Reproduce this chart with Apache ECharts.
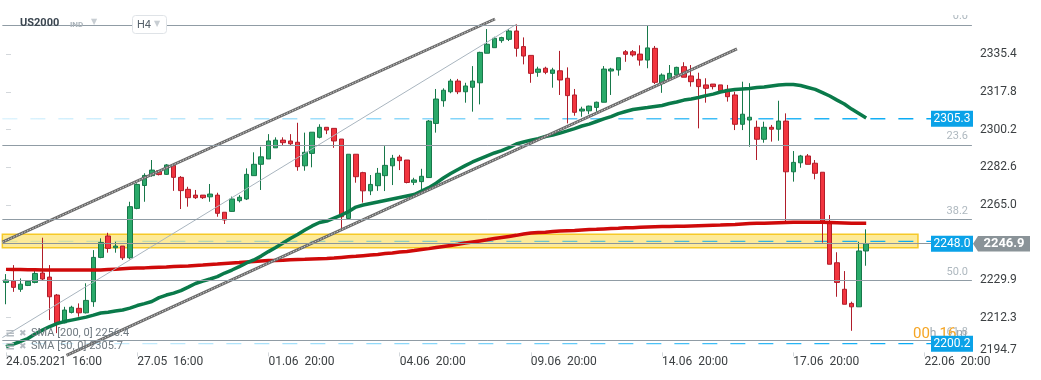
<!DOCTYPE html>
<html><head><meta charset="utf-8">
<script src="https://cdn.jsdelivr.net/npm/echarts@6/dist/echarts.min.js"></script>
<style>html,body{margin:0;padding:0;background:#fff;}#c{width:1041px;height:380px;}</style>
</head><body><div id="c"></div>
<script>
// ---------- data ----------
const slotCount = 133;               // H4 bar slots on the axis (incl. future)
const tickEvery = 18;                // one time label every 18 bars
const xTickLabels = ['24.05.2021  16:00','27.05  16:00','01.06  20:00','04.06  20:00','09.06  20:00','14.06  20:00','17.06  20:00','22.06  20:00'];
const yTickValues = [2194.7, 2212.3, 2229.9, 2265.0, 2282.6, 2300.2, 2317.8, 2335.4];
// candles: [open, close, low, high]
const candles = [
[2228.8,2229.9,2218.6,2232.7],[2229.4,2226.5,2224.4,2236.9],[2225.6,2228.0,2224.4,2230.7],[2227.4,2229.3,2227.1,2229.9],
[2228.8,2233.0,2228.4,2234.3],[2233.2,2230.4,2229.9,2249.7],[2231.3,2222.1,2211.2,2236.9],[2222.9,2209.9,2205.1,2223.4],
[2209.9,2215.9,2209.7,2217.4],[2214.8,2217.2,2214.3,2217.9],[2216.7,2214.6,2212.8,2219.0],[2214.6,2220.4,2214.3,2228.4],
[2219.8,2240.5,2217.4,2243.9],[2240.5,2247.5,2240.1,2249.4],[2250.5,2244.7,2242.7,2252.0],[2245.0,2245.8,2242.7,2247.8],
[2245.8,2240.3,2239.3,2245.8],[2240.3,2264.2,2239.6,2266.5],[2263.4,2274.6,2263.0,2275.1],[2274.1,2278.8,2266.5,2279.8],
[2278.7,2281.3,2278.2,2286.0],[2281.0,2279.2,2278.8,2281.3],[2279.3,2283.7,2279.0,2284.1],[2283.5,2277.9,2271.6,2284.1],
[2277.9,2271.7,2263.1,2278.5],[2272.3,2268.4,2264.2,2273.5],[2269.6,2268.4,2267.8,2272.0],[2269.6,2268.4,2267.8,2269.6],
[2268.8,2270.1,2266.5,2274.8],[2269.6,2261.1,2259.5,2270.7],[2261.6,2258.0,2256.1,2261.6],[2262.0,2267.8,2261.8,2268.9],
[2267.0,2268.6,2266.2,2269.6],[2267.8,2279.3,2267.3,2282.1],[2278.7,2284.0,2278.7,2289.6],[2284.0,2287.5,2272.0,2292.2],
[2286.5,2294.9,2286.5,2298.1],[2291.7,2295.3,2291.7,2296.6],[2295.3,2294.1,2293.0,2296.6],[2294.9,2293.6,2292.7,2298.1],
[2294.3,2282.9,2281.0,2303.4],[2283.3,2289.6,2281.0,2298.8],[2289.1,2299.0,2282.6,2299.0],[2296.6,2301.3,2296.1,2302.7],
[2301.3,2300.0,2298.1,2301.3],[2300.8,2294.9,2291.7,2300.8],[2295.8,2259.5,2253.4,2295.8],[2258.7,2288.7,2258.7,2288.7],
[2288.7,2278.2,2275.4,2288.7],[2280.1,2271.6,2266.1,2280.5],[2271.6,2274.6,2269.6,2279.0],[2274.0,2279.8,2271.6,2282.3],
[2278.7,2283.5,2271.5,2292.5],[2283.3,2286.8,2274.3,2288.4],[2287.4,2285.7,2281.3,2288.4],[2286.0,2275.5,2275.1,2286.0],
[2275.6,2276.7,2274.3,2277.7],[2275.9,2278.4,2271.8,2281.9],[2277.8,2304.2,2277.7,2304.7],[2303.1,2314.5,2298.8,2319.2],
[2313.7,2318.6,2310.9,2319.5],[2317.9,2322.9,2317.2,2323.9],[2322.9,2317.9,2316.8,2323.9],[2317.9,2320.6,2312.8,2322.1],
[2320.0,2322.9,2308.6,2329.9],[2322.1,2336.3,2312.0,2336.6],[2335.9,2340.1,2335.9,2347.2],[2338.5,2342.9,2338.5,2343.6],
[2341.8,2343.2,2340.8,2343.6],[2342.4,2346.3,2341.6,2347.2],[2346.3,2338.2,2334.3,2349.4],[2339.0,2334.6,2330.7,2343.3],
[2334.9,2326.5,2322.1,2334.9],[2327.0,2328.5,2324.9,2329.6],[2328.9,2327.0,2326.1,2329.6],[2326.5,2328.1,2319.8,2329.1],
[2327.7,2323.4,2316.4,2337.0],[2324.2,2316.1,2303.1,2329.3],[2316.4,2308.3,2306.7,2319.2],[2308.9,2309.8,2306.2,2310.9],
[2309.0,2311.2,2307.4,2311.4],[2310.6,2313.0,2308.6,2313.3],[2313.0,2328.5,2313.0,2329.9],[2327.6,2328.5,2316.4,2329.1],
[2328.1,2333.8,2325.4,2333.8],[2336.6,2335.4,2331.9,2337.4],[2336.6,2335.1,2334.3,2337.4],[2335.5,2332.7,2330.1,2339.6],
[2332.7,2338.4,2328.9,2348.8],[2338.2,2322.3,2321.5,2339.3],[2321.8,2325.7,2317.4,2326.5],[2323.8,2326.5,2323.8,2330.4],
[2325.7,2329.3,2325.7,2329.6],[2329.6,2324.7,2324.7,2331.7],[2325.3,2322.6,2320.3,2330.4],[2323.7,2320.3,2300.8,2326.8],
[2321.1,2319.5,2312.8,2324.2],[2321.5,2320.3,2319.0,2321.5],[2321.1,2318.4,2318.4,2321.1],[2319.0,2315.6,2313.3,2321.1],
[2316.4,2302.7,2300.0,2317.9],[2302.7,2307.4,2300.0,2322.6],[2304.7,2306.0,2292.2,2321.9],[2301.3,2295.7,2286.0,2304.4],
[2295.7,2301.3,2294.1,2303.9],[2301.3,2300.4,2294.6,2302.4],[2300.4,2304.2,2295.0,2313.7],[2304.2,2280.5,2257.2,2307.8],
[2280.5,2284.9,2275.9,2290.2],[2284.7,2287.9,2282.4,2288.4],[2287.9,2284.0,2284.0,2288.8],[2284.5,2279.8,2277.0,2286.0],
[2280.3,2256.4,2247.4,2280.3],[2256.7,2237.3,2237.3,2260.3],[2238.0,2228.8,2222.1,2242.9],[2225.6,2218.6,2218.6,2234.1],
[2219.0,2217.4,2206.2,2219.8],[2217.4,2243.5,2217.4,2247.8],[2243.5,2246.9,2236.6,2253.6]
];
const sma200 = [2234.9,2234.8,2234.8,2234.7,2234.7,2234.6,2234.6,2234.6,2234.6,2234.6,2234.6,2234.6,2234.6,2234.6,
2234.8,2235.0,2235.2,2235.4,
2235.5,2235.6,2235.8,2235.9,2236.0,2236.2,2236.4,2236.5,2236.7,2236.9,
2237.2,2237.4,2237.7,2237.9,2238.1,2238.4,2238.6,2238.8,2239.0,2239.1,
2239.2,2239.4,2239.5,2239.6,2239.8,2239.9,2240.0,2240.2,2240.5,2240.8,
2241.0,2241.3,2241.6,2241.9,2242.3,2242.6,2243.0,2243.3,2243.7,2244.2,
2244.6,2245.1,2245.6,2246.1,2246.6,2247.2,2247.7,2248.2,2248.7,2249.3,
2249.8,2250.3,2250.8,2251.4,2251.9,2252.1,2252.3,2252.6,2252.8,2253.0,
2253.1,2253.3,2253.5,2253.6,2253.8,2254.0,2254.1,2254.3,2254.4,2254.6,
2254.7,2254.8,2254.9,2254.9,2255.0,2255.1,2255.2,2255.3,2255.4,2255.5,
2255.6,2255.8,2255.9,2256.1,2256.3,2256.4,2256.5,2256.6,2256.7,2256.8,
2256.9,2256.9,2256.9,2256.9,2256.9,2256.8,2256.7,2256.6,2256.5,2256.4,2256.4];
const sma50 = [2198.8,2200.0,2201.2,2202.6,2204.7,2206.5,2208.2,2209.6,2210.5,2211.2,
2211.9,2212.6,2213.5,2214.5,2214.9,2215.4,2215.9,2216.8,2218.0,2218.9,
2219.9,2221.7,2222.9,2223.8,2225.0,2226.6,2228.3,2229.4,2230.4,2231.5,
2233.2,2234.6,2236.2,2237.9,2239.3,2241.1,2243.2,2245.1,2247.2,2249.3,
2251.2,2253.3,2255.2,2256.8,2257.5,2258.9,2260.3,2261.9,2264.0,2265.0,
2265.7,2266.4,2267.1,2267.8,2268.5,2269.2,2269.9,2271.5,2273.1,2275.2,
2277.6,2279.7,2281.6,2283.4,2285.1,2286.5,2287.9,2289.3,2290.4,2291.8,
2293.5,2294.4,2295.3,2296.0,2297.0,2297.7,2298.6,2299.6,2300.7,2301.9,
2302.8,2304.0,2305.2,2306.3,2307.7,2308.7,2309.6,2310.1,2310.5,2311.0,
2311.5,2312.4,2313.1,2314.0,2314.5,2315.2,2316.1,2316.8,2317.8,2318.5,
2319.0,2319.2,2319.4,2319.9,2320.1,2320.6,2321.1,2321.3,2321.3,2320.8,
2319.9,2319.0,2317.5,2315.9,2314.0,2312.2,2309.8,2307.7,2305.6];
const fibNames  = ['0.0','23.6','38.2','50.0','61.8'];
const fibValues = [2349.1, 2293.0, 2258.2, 2229.8, 2201.6];
const blueLevels = [2305.3, 2248.0, 2200.2];
const lastPrice = 2246.9;
const zoneTop = 2251.3, zoneBottom = 2245.0, zoneEndBar = 125.1;
// trend lines as [barIndex, price] end points
const upperChannel = [[-0.5, 2247.6], [67.08, 2351.9]];
const lowerChannel = [[8.3, 2194.7], [100.27, 2337.9]];
const thinTrend    = [[-0.5, 2203.0], [70, 2349.4]];
const legendTexts = ['SMA [200, 0] 2256.4', 'SMA [50, 0] 2305.7'];

// ---------- chart ----------
const categories = Array.from({length: slotCount}, (_, i) => 'b' + i);
const tickShown = (i) => i % tickEvery === 0;
const FONT = 'Roboto';
const blueGrad = () => new echarts.graphic.LinearGradient(0, 0, 1, 0, [
  {offset: 0, color: 'rgba(3,169,244,0.12)'},
  {offset: 0.5, color: 'rgba(3,169,244,0.5)'},
  {offset: 1, color: 'rgba(3,169,244,1)'}]);
const blueEnd = 126.9;

const series = [];
series.push({
  type: 'line', xAxisIndex: 1, data: [], silent: true, z: 1,
  markLine: {silent: true, symbol: ['none','none'], label: {show: false}, animation: false,
    lineStyle: {color: '#909ca5', width: 1, type: 'solid'},
    data: fibValues.map(v => ({yAxis: v}))}
});
series.push({
  type: 'line', xAxisIndex: 1, data: [], silent: true, z: 1,
  markLine: {silent: true, symbol: ['none','none'], label: {show: false}, animation: false,
    lineStyle: {color: '#8b959b', width: 1, type: 'solid'},
    data: [{yAxis: lastPrice}]}
});
blueLevels.forEach(v => series.push({
  type: 'line', xAxisIndex: 1, silent: true, z: 1, symbol: 'none',
  data: [[-0.5, v], [blueEnd, v]],
  lineStyle: {width: 1.4, type: [15, 13], color: blueGrad()}
}));
series.push({
  type: 'candlestick', xAxisIndex: 0, data: candles, barWidth: 5, z: 2, silent: true,
  itemStyle: {color: '#2aaa6a', color0: '#f2353f', borderColor: '#17784a', borderColor0: '#b01d2a', borderWidth: 1}
});
series.push({type: 'line', xAxisIndex: 0, data: sma200, symbol: 'none', z: 3, silent: true,
  lineStyle: {color: '#cf0a0a', width: 3.5}});
series.push({type: 'line', xAxisIndex: 0, data: sma50, symbol: 'none', z: 3, silent: true,
  lineStyle: {color: '#0a7a4a', width: 3.5}});
[upperChannel, lowerChannel].forEach(seg => {
  series.push({type: 'line', xAxisIndex: 1, data: seg, symbol: 'none', z: 4, silent: true,
    lineStyle: {color: '#6a6a6a', width: 3}});
  series.push({type: 'line', xAxisIndex: 1, data: seg, symbol: 'none', z: 4, silent: true,
    lineStyle: {color: '#d0d0d0', width: 1, type: [1.5, 1.5]}});
});
series.push({type: 'line', xAxisIndex: 1, data: thinTrend, symbol: 'none', z: 4, silent: true,
  lineStyle: {color: '#a9b5bf', width: 1}});
series.push({
  type: 'line', xAxisIndex: 1, data: [], silent: true, z: 5,
  markArea: {silent: true, animation: false,
    itemStyle: {color: 'rgba(250,212,40,0.48)', borderColor: '#f6c928', borderWidth: 1.5},
    data: [[{coord: [-0.5, zoneTop]}, {coord: [zoneEndBar, zoneBottom]}]]}
});
series.push({
  type: 'scatter', xAxisIndex: 1, symbolSize: 0, z: 6, silent: true,
  data: fibValues.map((v, k) => [131.96, v, fibNames[k]]),
  label: {show: true, position: 'left', distance: 0, offset: [0, -8.5],
    formatter: p => p.value[2], color: '#9aa6af', fontSize: 11, fontFamily: FONT}
});

const option = {
  animation: false,
  textStyle: {fontFamily: FONT},
  grid: {left: 2.35, right: 69.1, top: 15, bottom: 24.6, containLabel: false},
  xAxis: [{
    type: 'category', data: categories, boundaryGap: true, offset: -3,
    axisLine: {show: false},
    axisTick: {show: true, alignWithLabel: true, interval: tickShown, length: 4, lineStyle: {color: '#d3d7db'}},
    axisLabel: {interval: tickShown, align: 'left', margin: 4, color: '#3c4043', fontSize: 12, fontFamily: FONT,
      formatter: (val, idx) => xTickLabels[idx / tickEvery] || ''},
    splitLine: {show: false}
  }, {
    type: 'value', min: -0.5, max: slotCount - 0.5, show: false
  }],
  yAxis: {
    type: 'value', position: 'right', min: 2194.7, max: 2353.77, scale: true,
    splitLine: {show: false}, axisLine: {show: false},
    axisTick: {show: true, length: 5, lineStyle: {color: '#d3d7db'}, customValues: yTickValues},
    axisLabel: {customValues: yTickValues, color: '#3c4043', fontSize: 12, fontFamily: FONT, margin: 8,
      formatter: v => Math.abs(v - yTickValues[0]) < 0.05 ? '{low|' + v.toFixed(1) + '}' : v.toFixed(1),
      rich: {low: {padding: [0, 0, 10, 0], color: '#3c4043', fontSize: 12, fontFamily: FONT}}}
  },
  series: series
};

const chart = echarts.init(document.getElementById('c'));
chart.setOption(option);

const yPix = v => chart.convertToPixel({yAxisIndex: 0}, v);
const yLast = yPix(lastPrice);
const g = [];
// header
g.push({type: 'text', x: 20, y: 23, z: 200, style: {text: 'US2000', fill: '#3b4650', font: 'bold 11px Roboto', verticalAlign: 'middle'}});
g.push({type: 'text', x: 70, y: 25, z: 200, style: {text: 'IND', fill: '#a9b2b9', font: 'bold 8px Roboto', verticalAlign: 'middle'}});
g.push({type: 'text', x: 91, y: 22, z: 200, style: {text: '▼', fill: '#c8ced3', font: '8px DejaVu Sans', verticalAlign: 'middle'}});
g.push({type: 'rect', z: 200, shape: {x: 132.5, y: 15.5, width: 34, height: 18, r: 3}, style: {fill: '#fff', stroke: '#dfe3e7', lineWidth: 1}});
g.push({type: 'text', x: 137, y: 25, z: 201, style: {text: 'H4', fill: '#55606a', font: '11px Roboto', verticalAlign: 'middle'}});
g.push({type: 'text', x: 154, y: 24, z: 201, style: {text: '▼', fill: '#c8ced3', font: '8px DejaVu Sans', verticalAlign: 'middle'}});
// top clip of the 0.0 label
g.push({type: 'rect', z: 150, shape: {x: 925, y: 0, width: 50, height: 15}, style: {fill: '#fff'}});
// legend
legendTexts.forEach((t, k) => {
  const y = 333.5 + k * 13;
  g.push({type: 'text', x: 5, y: y, z: 200, style: {text: '≡', fill: '#b4bbc1', font: 'bold 12px DejaVu Sans', verticalAlign: 'middle'}});
  g.push({type: 'text', x: 19, y: y, z: 200, style: {text: '✖', fill: '#b4bbc1', font: '9px DejaVu Sans', verticalAlign: 'middle'}});
  g.push({type: 'text', x: 31, y: y, z: 200, style: {text: t, fill: '#6f7980', font: '11px Roboto', verticalAlign: 'middle'}});
});
// timer
g.push({type: 'text', x: 913, y: 334, z: 210, style: {text: '{o|00}{g|h }{o|16}{g|m}', verticalAlign: 'middle',
  rich: {o: {fill: '#f5a524', fontSize: 15, fontFamily: FONT}, g: {fill: '#9aa6ae', fontSize: 12, fontFamily: FONT}}}});
// blue level tags (a tag next to the last-price tag is pushed level with it)
blueLevels.forEach(v => {
  let y = yPix(v);
  if (Math.abs(y - yLast) < 6) y = yLast;
  g.push({type: 'rect', z: 220, shape: {x: 931, y: y - 8, width: 42, height: 16}, style: {fill: '#0aa2e8'}});
  g.push({type: 'text', x: 952, y: y, z: 221, style: {text: v.toFixed(1), fill: '#fff', font: '12px Roboto', align: 'center', verticalAlign: 'middle'}});
});
// last price tag
g.push({type: 'polygon', z: 230, shape: {points: [[973, yLast], [978, yLast - 7.8], [1030, yLast - 7.8], [1030, yLast + 7.8], [978, yLast + 7.8]]}, style: {fill: '#8a9398'}});
g.push({type: 'text', x: 1004, y: yLast, z: 231, style: {text: lastPrice.toFixed(1), fill: '#fff', font: 'bold 13px Roboto', align: 'center', verticalAlign: 'middle'}});
chart.setOption({graphic: g});
</script>
</body></html>
